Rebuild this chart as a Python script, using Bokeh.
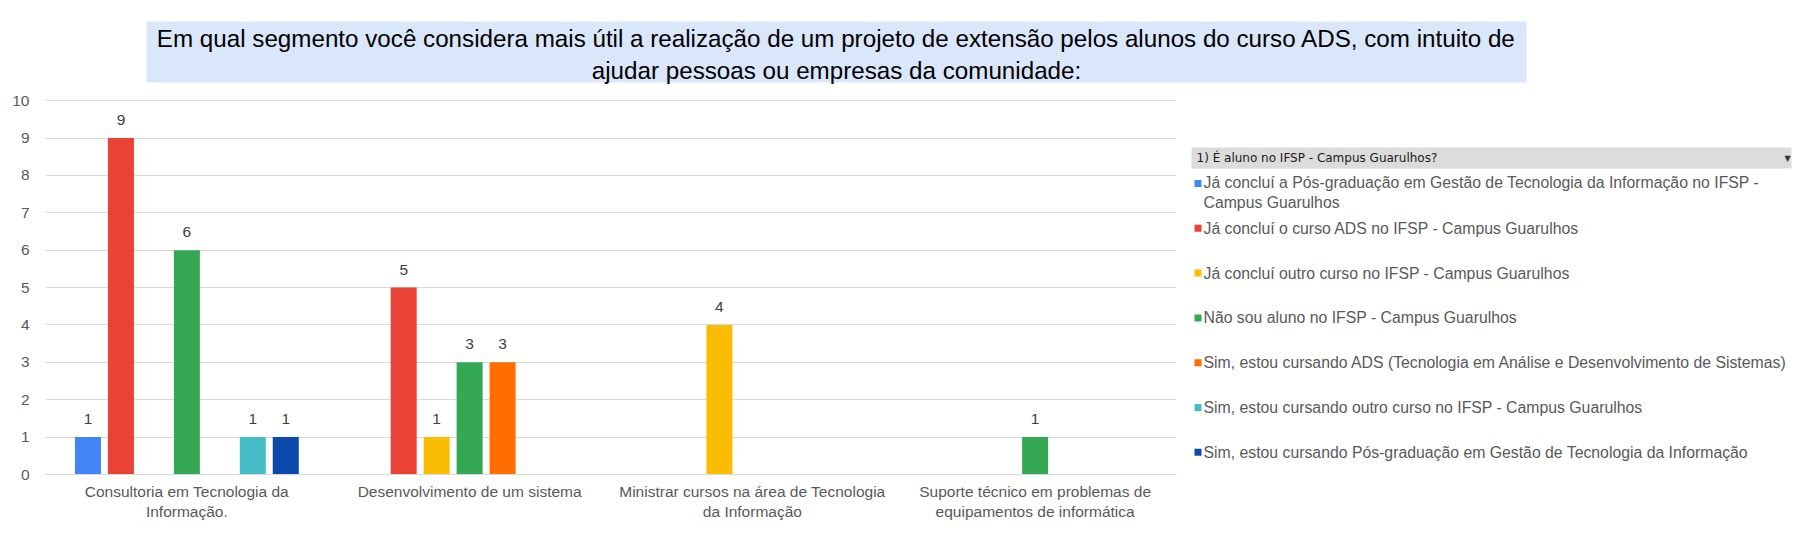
from bokeh.plotting import figure
from bokeh.layouts import column, row
from bokeh.models import (FactorRange, Range1d, ColumnDataSource, Label, BoxAnnotation)
from bokeh.transform import dodge
from bokeh.core.properties import value
from bokeh.embed import file_html
from bokeh.resources import INLINE

# ---------------- data ----------------
title_text = ("Em qual segmento você considera mais útil a realização de um projeto de extensão pelos alunos do curso ADS, com intuito de\n"
              "ajudar pessoas ou empresas da comunidade:")

categories = [
    "Consultoria em Tecnologia da\nInformação.",
    "Desenvolvimento de um sistema",
    "Ministrar cursos na área de Tecnologia\nda Informação",
    "Suporte técnico em problemas de\nequipamentos de informática",
]

legend_title = "1) É aluno no IFSP - Campus Guarulhos?"

series_names = [
    "Já concluí a Pós-graduação em Gestão de Tecnologia da Informação no IFSP -\nCampus Guarulhos",
    "Já concluí o curso ADS no IFSP - Campus Guarulhos",
    "Já concluí outro curso no IFSP - Campus Guarulhos",
    "Não sou aluno no IFSP - Campus Guarulhos",
    "Sim, estou cursando ADS (Tecnologia em Análise e Desenvolvimento de Sistemas)",
    "Sim, estou cursando outro curso no IFSP - Campus Guarulhos",
    "Sim, estou cursando Pós-graduação em Gestão de Tecnologia da Informação",
]
series_colors = ["#4285F4", "#EA4335", "#FBBC04", "#34A853", "#FF6D01", "#46BDC6", "#0B49AD"]

concluiu_pos = [1, 0, 0, 0]
concluiu_ads = [9, 5, 0, 0]
concluiu_outro = [0, 1, 4, 0]
nao_aluno = [6, 3, 0, 1]
cursando_ads = [0, 3, 0, 0]
cursando_outro = [1, 0, 0, 0]
cursando_pos = [1, 0, 0, 0]
series_values = [concluiu_pos, concluiu_ads, concluiu_outro, nao_aluno,
                 cursando_ads, cursando_outro, cursando_pos]

y_ticks = list(range(0, 11))

FONT = "Liberation Sans"
TOTAL_W = 1802
TITLE_H = 92
BODY_H = 467
CHART_W = 1186
LEG_W = TOTAL_W - CHART_W
TOP_B, BOT_B = 7, 85          # chart frame spans page y 99..474
FRAME_H = BODY_H - TOP_B - BOT_B


def blank_fig(w, h, top=0, bottom=0):
    f = figure(width=w, height=h, x_range=Range1d(0, w),
               y_range=Range1d(h - top - bottom, 0),
               output_backend="svg", toolbar_location=None, min_border=0,
               min_border_top=top, min_border_bottom=bottom,
               x_axis_location=None, y_axis_location=None)
    f.grid.visible = False
    f.outline_line_color = None
    f.background_fill_color = "white"
    f.border_fill_color = "white"
    return f


# ---------------- title strip ----------------
tf = blank_fig(TOTAL_W, TITLE_H)
tf.add_layout(BoxAnnotation(left=146, right=1526, top=21, bottom=82,
                            fill_color="#DAE6FA", fill_alpha=1, line_color=None))
tf.add_layout(Label(x=836, y=54, text=title_text, text_align="center",
                    text_baseline="middle", text_font=FONT, text_font_size="24.2px",
                    text_color="#000000", text_line_height=1.2))

# ---------------- chart ----------------
p = figure(width=CHART_W, height=BODY_H,
           x_range=FactorRange(*categories, range_padding=0),
           y_range=Range1d(0, 10.03),
           output_backend="svg", toolbar_location=None,
           min_border_left=45, min_border_right=10,
           min_border_top=TOP_B, min_border_bottom=BOT_B)
p.outline_line_color = None
p.background_fill_color = "white"
p.border_fill_color = "white"

p.xgrid.grid_line_color = None
p.ygrid.grid_line_color = "#D9D9D9"
p.ygrid.grid_line_width = 1

p.yaxis.ticker = y_ticks
p.yaxis.axis_line_color = None
p.yaxis.major_tick_line_color = None
p.yaxis.minor_tick_line_color = None
p.yaxis.major_label_text_font = FONT
p.yaxis.major_label_text_font_size = "15.5px"
p.yaxis.major_label_text_color = "#595959"
p.yaxis.major_label_standoff = 10

p.xaxis.axis_line_color = "#D9D9D9"
p.xaxis.major_tick_line_color = None
p.xaxis.minor_tick_line_color = None
p.xaxis.major_label_text_font = FONT
p.xaxis.major_label_text_font_size = "15.5px"
p.xaxis.major_label_text_color = "#595959"
p.xaxis.major_label_standoff = 2

slot = 0.1166
bar_w = 0.092
for i, (vals, color) in enumerate(zip(series_values, series_colors)):
    cats = [c for c, v in zip(categories, vals) if v > 0]
    tops = [v for v in vals if v > 0]
    src = ColumnDataSource(dict(cat=cats, top=tops, lbl=[str(v) for v in tops]))
    off = (i - 3) * slot
    p.vbar(x=dodge("cat", off, range=p.x_range), top="top", width=bar_w,
           source=src, fill_color=color, line_color=None)
    p.text(x=dodge("cat", off, range=p.x_range), y="top", text="lbl", source=src,
           text_align="center", text_baseline="alphabetic", y_offset=-18,
           text_font=value(FONT), text_font_size="15.5px", text_color="#404040")

# ---------------- legend panel (local y = page y - 99) ----------------
lg = blank_fig(LEG_W, BODY_H, TOP_B, BOT_B)
lg.add_layout(BoxAnnotation(left=5, right=605, top=48, bottom=69,
                            fill_color="#DCDCDC", fill_alpha=1, line_color=None))
lg.add_layout(Label(x=10, y=58.5, text=legend_title, text_font="DejaVu Sans",
                    text_font_size="12px", text_color="#1a1a1a", text_baseline="middle"))
lg.add_layout(Label(x=601, y=58.5, text="▼", text_font="DejaVu Sans",
                    text_font_size="8px", text_color="#333333", text_baseline="middle",
                    text_align="center"))

pitch = 44.8
first_y = 84
for k, (name, color) in enumerate(zip(series_names, series_colors)):
    yc = first_y + k * pitch
    lg.add_layout(BoxAnnotation(left=8, right=15, top=yc - 3.5, bottom=yc + 3.5,
                                fill_color=color, fill_alpha=1, line_color=None))
    nlines = name.count("\n") + 1
    ytxt = yc + (nlines - 1) * 18 / 2
    lg.add_layout(Label(x=17, y=ytxt, text=name, text_font=FONT, text_font_size="15.8px",
                        text_color="#595959", text_baseline="middle",
                        text_line_height=1.16))

layout = column(tf, row(p, lg, spacing=0), spacing=0)
open("out.html", "w").write(file_html(layout, INLINE))
